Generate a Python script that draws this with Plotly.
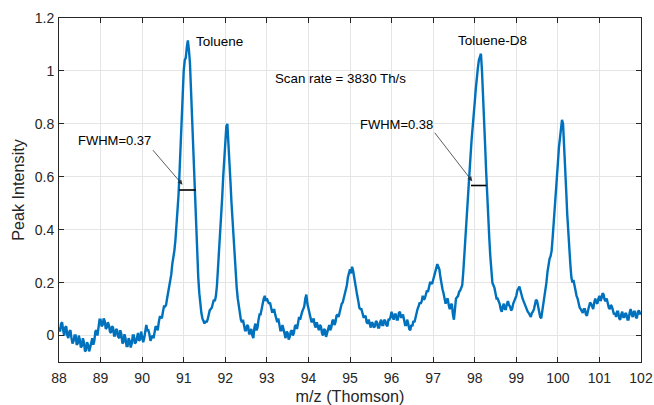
import plotly.graph_objects as go

# m/z grid: 88.000 to 102.000 in steps of 0.025
mz_start = 88.0
mz_step = 0.025

intensity = [
    # 88
    0.03, 0.015, 0.045, 0.05, 0.02, 0.0, 0.03, 0.035, 0.0, -0.01, 0.015, 0.02, -0.01, -0.03, -0.02, 0.0, 0.0, -0.035, -0.03, 0.0,
    -0.015, -0.045, -0.04, -0.01, -0.025, -0.06, -0.055, -0.025, -0.035, -0.06, -0.045, -0.02, -0.01, -0.035, -0.02, 0.015, 0.02, 0.0, 0.03, 0.06,
    # 89
    0.06, 0.035, 0.04, 0.065, 0.055, 0.025, 0.03, 0.05, 0.04, 0.015, 0.01, 0.035, 0.03, 0.0, 0.0, 0.025, 0.02, -0.005, -0.01, 0.02,
    0.005, -0.03, -0.025, 0.005, -0.01, -0.04, -0.04, -0.01, -0.02, -0.045, -0.03, 0.0, 0.0, -0.03, -0.025, 0.0, 0.01, -0.02, -0.015, 0.015,
    # 90
    0.0, -0.025, -0.01, 0.02, 0.04, 0.02, 0.02, 0.005, -0.02, -0.01, 0.0, -0.01, 0.01, 0.035, 0.03, 0.02, 0.05, 0.07, 0.07, 0.065,
    0.09, 0.11, 0.11, 0.115, 0.14, 0.165, 0.18, 0.2, 0.23, 0.27, 0.29, 0.32, 0.36, 0.41, 0.45, 0.53, 0.62, 0.73, 0.84, 0.93,
    # 91
    1.0, 1.04, 1.05, 1.09, 1.115, 1.08, 1.03, 0.93, 0.82, 0.71, 0.6, 0.5, 0.4, 0.3, 0.22, 0.16, 0.11, 0.085, 0.065, 0.05,
    0.045, 0.055, 0.05, 0.06, 0.08, 0.095, 0.1, 0.105, 0.12, 0.135, 0.13, 0.15, 0.19, 0.25, 0.31, 0.37, 0.44, 0.52, 0.6, 0.68,
    # 92
    0.76, 0.79, 0.8, 0.74, 0.66, 0.58, 0.5, 0.43, 0.37, 0.3, 0.24, 0.18, 0.14, 0.115, 0.08, 0.06, 0.05, 0.06, 0.04, 0.02,
    0.02, 0.04, 0.035, 0.005, 0.01, 0.025, 0.0, -0.01, 0.03, 0.045, 0.02, 0.03, 0.06, 0.08, 0.08, 0.095, 0.12, 0.14, 0.15, 0.13,
    # 93
    0.14, 0.13, 0.12, 0.125, 0.11, 0.09, 0.09, 0.1, 0.08, 0.06, 0.05, 0.065, 0.04, 0.02, 0.02, 0.04, 0.025, 0.0, -0.01, 0.015,
    0.01, -0.015, -0.005, 0.015, 0.02, 0.0, 0.01, 0.035, 0.04, 0.025, 0.05, 0.07, 0.06, 0.08, 0.09, 0.1, 0.11, 0.14, 0.155, 0.12,
    # 94
    0.1, 0.09, 0.07, 0.05, 0.055, 0.065, 0.04, 0.03, 0.05, 0.03, 0.02, 0.04, 0.035, 0.01, 0.0, 0.025, 0.02, -0.005, 0.01, 0.035,
    0.04, 0.02, 0.03, 0.055, 0.06, 0.04, 0.05, 0.075, 0.08, 0.07, 0.09, 0.11, 0.12, 0.125, 0.14, 0.165, 0.18, 0.19, 0.22, 0.24,
    # 95
    0.25, 0.235, 0.26, 0.245, 0.22, 0.2, 0.16, 0.15, 0.13, 0.105, 0.1, 0.1, 0.085, 0.07, 0.07, 0.075, 0.05, 0.045, 0.06, 0.04,
    0.03, 0.05, 0.045, 0.03, 0.035, 0.055, 0.05, 0.03, 0.03, 0.05, 0.06, 0.04, 0.04, 0.06, 0.055, 0.04, 0.035, 0.06, 0.06, 0.07,
    # 96
    0.09, 0.07, 0.06, 0.08, 0.08, 0.06, 0.06, 0.085, 0.09, 0.07, 0.07, 0.08, 0.06, 0.04, 0.04, 0.06, 0.045, 0.025, 0.02, 0.04,
    0.035, 0.055, 0.05, 0.07, 0.09, 0.1, 0.11, 0.125, 0.12, 0.13, 0.15, 0.135, 0.14, 0.16, 0.17, 0.165, 0.18, 0.2, 0.2, 0.195,
    # 97
    0.21, 0.225, 0.23, 0.25, 0.27, 0.26, 0.25, 0.22, 0.19, 0.175, 0.16, 0.13, 0.12, 0.135, 0.14, 0.115, 0.1, 0.115, 0.12, 0.08,
    0.06, 0.1, 0.14, 0.145, 0.15, 0.165, 0.17, 0.18, 0.19, 0.24, 0.31, 0.36, 0.42, 0.48, 0.54, 0.61, 0.68, 0.74, 0.8, 0.84,
    # 98
    0.88, 0.93, 0.98, 1.01, 1.04, 1.05, 1.065, 1.0, 0.92, 0.82, 0.72, 0.62, 0.52, 0.44, 0.37, 0.3, 0.24, 0.2, 0.19, 0.18,
    0.16, 0.14, 0.14, 0.13, 0.12, 0.1, 0.09, 0.11, 0.12, 0.1, 0.1, 0.12, 0.13, 0.115, 0.11, 0.095, 0.1, 0.12, 0.13, 0.14,
    # 99
    0.15, 0.17, 0.18, 0.185, 0.17, 0.15, 0.14, 0.13, 0.12, 0.105, 0.1, 0.09, 0.085, 0.075, 0.07, 0.085, 0.09, 0.1, 0.12, 0.135,
    0.13, 0.11, 0.09, 0.07, 0.065, 0.09, 0.12, 0.15, 0.17, 0.2, 0.24, 0.27, 0.29, 0.3, 0.32, 0.37, 0.42, 0.48, 0.55, 0.6,
    # 100
    0.65, 0.71, 0.75, 0.8, 0.815, 0.8, 0.73, 0.65, 0.55, 0.46, 0.38, 0.32, 0.27, 0.22, 0.2, 0.21, 0.19, 0.16, 0.15, 0.14,
    0.12, 0.105, 0.1, 0.09, 0.085, 0.1, 0.1, 0.08, 0.075, 0.095, 0.11, 0.125, 0.12, 0.105, 0.1, 0.125, 0.14, 0.125, 0.12, 0.14,
    # 101
    0.15, 0.13, 0.14, 0.16, 0.155, 0.135, 0.13, 0.14, 0.12, 0.105, 0.1, 0.115, 0.11, 0.09, 0.08, 0.085, 0.07, 0.09, 0.09, 0.065,
    0.06, 0.08, 0.09, 0.07, 0.07, 0.085, 0.08, 0.06, 0.06, 0.085, 0.1, 0.08, 0.07, 0.09, 0.09, 0.07, 0.065, 0.09, 0.095, 0.08,
    # 102
    0.09,
]
mz = [round(mz_start + i * mz_step, 3) for i in range(len(intensity))]

x_ticks = [88, 89, 90, 91, 92, 93, 94, 95, 96, 97, 98, 99, 100, 101, 102]
y_ticks = [0, 0.2, 0.4, 0.6, 0.8, 1.0, 1.2]
y_ticktext = ["0", "0.2", "0.4", "0.6", "0.8", "1", "1.2"]

# FWHM bars: (x_left, x_right, y)
fwhm_toluene = [90.89, 91.29, 0.55]
fwhm_d8 = [97.91, 98.28, 0.567]

peak_labels = ["Toluene", "Toluene-D8"]
peak_label_x = [91.87, 98.42]
peak_label_y = [1.11, 1.115]

FONT = "Arial, Liberation Sans, sans-serif"
TXT = "#262626"

fig = go.Figure()
fig.add_trace(go.Scatter(x=mz, y=intensity, mode="lines",
                         line=dict(color="#0072BD", width=2.4),
                         showlegend=False, hoverinfo="skip"))

for f in (fwhm_toluene, fwhm_d8):
    fig.add_trace(go.Scatter(x=[f[0], f[1]], y=[f[2], f[2]], mode="lines",
                             line=dict(color="black", width=1.6),
                             showlegend=False, hoverinfo="skip"))

for t, xx, yy in zip(peak_labels, peak_label_x, peak_label_y):
    fig.add_annotation(x=xx, y=yy, text=t, showarrow=False,
                       font=dict(family=FONT, size=13.5, color="black"))

fig.add_annotation(x=94.78, y=0.97, text="Scan rate = 3830 Th/s", showarrow=False,
                   font=dict(family=FONT, size=13.3, color="black"))

# FWHM labels with arrows
fig.add_annotation(x=89.33, y=0.737, text="FWHM=0.37", showarrow=False,
                   font=dict(family=FONT, size=13, color="black"))
fig.add_annotation(x=90.97, y=0.57, ax=90.23, ay=0.706, axref="x", ayref="y",
                   xref="x", yref="y", text="", showarrow=True,
                   arrowhead=2, arrowsize=1.2, arrowwidth=0.8, arrowcolor="#333333")
fig.add_annotation(x=96.11, y=0.797, text="FWHM=0.38", showarrow=False,
                   font=dict(family=FONT, size=13, color="black"))
fig.add_annotation(x=97.94, y=0.583, ax=97.01, ay=0.772, axref="x", ayref="y",
                   xref="x", yref="y", text="", showarrow=True,
                   arrowhead=2, arrowsize=1.2, arrowwidth=0.8, arrowcolor="#333333")

axis_common = dict(showline=True, linecolor=TXT, linewidth=1, mirror="ticks",
                   ticks="inside", ticklen=5, tickcolor=TXT, automargin=False,
                   showgrid=True, gridcolor="#e5e5e5", gridwidth=1, zeroline=False,
                   tickfont=dict(family=FONT, size=14, color=TXT))

fig.update_xaxes(range=[88, 102], tickvals=x_ticks, ticklabelstandoff=3,
                 title=dict(text="m/z (Thomson)", font=dict(family=FONT, size=16.2, color=TXT), standoff=9),
                 **axis_common)
fig.update_yaxes(range=[-0.1, 1.2], tickvals=y_ticks, ticktext=y_ticktext, ticklabelstandoff=1,
                 title=dict(text="Peak Intensity", font=dict(family=FONT, size=16.2, color=TXT), standoff=6),
                 **axis_common)

fig.update_layout(width=654, height=405,
                  margin=dict(l=59, r=13, t=18, b=43),
                  paper_bgcolor="white", plot_bgcolor="white")

# remove the default page margin so the figure fills the window exactly
fig.write_html("out.html", config={"displayModeBar": False},
               post_script="document.body.style.margin='0';document.body.style.overflow='hidden';")
